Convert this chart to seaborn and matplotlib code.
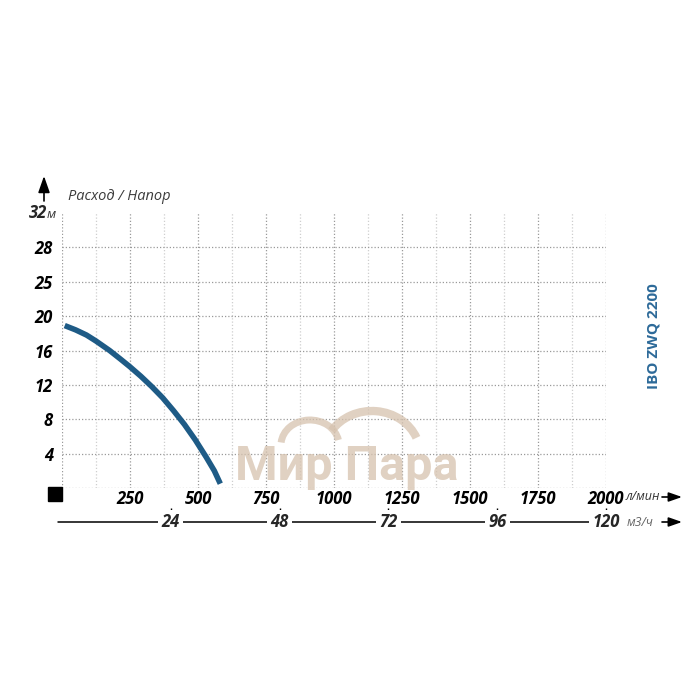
import matplotlib
matplotlib.use("Agg")
import matplotlib.pyplot as plt
import matplotlib.transforms as mtransforms
from matplotlib.patches import Arc, FancyArrowPatch
import seaborn as sns
import pandas as pd

# pump curve (flow l/min, head m)
flow_lpm = [10, 50, 90, 125, 175, 215, 250, 290, 330, 370, 410, 450, 490,
            530, 560, 582]
head_m = [18.9, 18.4, 17.8, 17.1, 16.0, 15.0, 14.1, 13.0, 11.8, 10.5, 9.0,
          7.4, 5.6, 3.6, 2.0, 0.5]

x_ticks = [0, 250, 500, 750, 1000, 1250, 1500, 1750, 2000]
x_labels = ["", "250", "500", "750", "1000", "1250", "1500", "1750", "2000"]
x_minor = [125, 375, 625, 875, 1125, 1375, 1625, 1875]
y_ticks = [0, 4, 8, 12, 16, 20, 24, 28, 32]
y_labels = ["", "4", "8", "12", "16", "20", "25", "28", ""]
m3h_ticks = [24, 48, 72, 96, 120]

model = "IBO ZWQ 2200"
curve_color = "#1e5b86"

sns.set_style("white")
plt.rcParams["font.family"] = ["Open Sans", "DejaVu Sans"]

df = pd.DataFrame({"flow": flow_lpm, "head": head_m})

W = 700.0
fig = plt.figure(figsize=(7, 7), dpi=100)
fig.patch.set_facecolor("white")


def fx(x):
    return x / W


def fy(y):
    return 1 - y / W


ax = fig.add_axes([fx(62), fy(488), 544 / W, 275 / W])
ax.set_xlim(0, 2000)
ax.set_ylim(0, 32)

sns.lineplot(data=df, x="flow", y="head", ax=ax, color=curve_color,
             linewidth=4.0, zorder=5)
for ln in ax.lines:
    ln.set_solid_capstyle("butt")
    ln.set_solid_joinstyle("round")

ax.set_xticks(x_ticks)
ax.set_xticklabels(x_labels)
ax.set_xticks(x_minor, minor=True)
ax.set_yticks(y_ticks)
ax.set_yticklabels(y_labels)
ax.set_xlabel("")
ax.set_ylabel("")
for s in ax.spines.values():
    s.set_visible(False)

ax.tick_params(axis="both", which="both", length=0)
ax.tick_params(axis="x", pad=1.5)
ax.tick_params(axis="y", pad=6.5)
for lbl in ax.get_xticklabels() + ax.get_yticklabels():
    lbl.set_fontweight("bold")
    lbl.set_fontstyle("italic")
    lbl.set_fontsize(12)
    lbl.set_color("black")

dots = (0, (1, 1.6))
ax.grid(True, which="major", axis="both", color="#9a9a9a", linestyle=dots,
        linewidth=0.9)
ax.grid(True, which="minor", axis="x", color="#cfcfcf", linestyle=dots,
        linewidth=0.9)
ax.get_ygridlines()[-1].set_visible(False)
ax.set_axisbelow(True)

# "32 м" label at the top of the head axis
ax.annotate("32", xy=(0, 32), xycoords=("axes fraction", "data"),
            xytext=(-15, 0), textcoords="offset pixels", ha="right",
            va="center", fontsize=12, fontweight="bold", fontstyle="italic")
ax.annotate("м", xy=(0, 32), xycoords=("axes fraction", "data"),
            xytext=(-15, -1), textcoords="offset pixels", ha="left",
            va="center", fontsize=9.5, fontstyle="italic", color="#333333")

# black square at the origin
off = mtransforms.ScaledTranslation(-7 / 100, -6 / 100, fig.dpi_scale_trans)
ax.plot([0], [0], marker="s", markersize=9.5, color="black", clip_on=False,
        transform=ax.transData + off)

# second scale, m3/h
ax2 = fig.add_axes([fx(62), fy(536), 544 / W, 28 / W])
ax2.set_xlim(0, 120)
ax2.set_ylim(0, 1)
for s in ax2.spines.values():
    s.set_visible(False)
ax2.set_yticks([])
ax2.set_xticks(m3h_ticks)
ax2.tick_params(axis="x", top=True, bottom=False, labelbottom=False,
                direction="in", length=3, width=1, color="black")
ax2.patch.set_alpha(0)
ax2.axhline(0.5, xmin=-0.008, xmax=1.0, color="black", linewidth=1.1,
            clip_on=False)
for v in m3h_ticks:
    ax2.text(v, 0.5, str(v), ha="center", va="center", fontsize=12,
             fontweight="bold", fontstyle="italic",
             bbox=dict(facecolor="white", edgecolor="none", pad=2.5))

# axis captions and arrows
fig.text(fx(68), fy(197), "Расход / Напор", ha="left", va="center",
         fontsize=10.5, fontstyle="italic", color="#3c3c3c")
fig.text(fx(626), fy(497), "л/мин", ha="left", va="center", fontsize=9,
         fontstyle="italic", color="#333333")
fig.text(fx(627), fy(523), "м3/ч", ha="left", va="center", fontsize=9,
         fontstyle="italic", color="#666666")

up = dict(arrowstyle="-|>,head_length=1.0,head_width=0.35", color="black",
          lw=1.2, mutation_scale=10, shrinkA=0, shrinkB=0)
fig.add_artist(FancyArrowPatch((fx(44), fy(201)), (fx(44), fy(176)),
                               transform=fig.transFigure, **up))
right = dict(arrowstyle="-|>,head_length=0.8,head_width=0.28", color="black",
             lw=1.2, mutation_scale=10, shrinkA=0, shrinkB=0)
for yy in (497, 522):
    fig.add_artist(FancyArrowPatch((fx(662), fy(yy)), (fx(682), fy(yy)),
                                   transform=fig.transFigure, **right))

fig.text(fx(653), fy(336), model, rotation=90, ha="center", va="center",
         fontsize=11, fontweight="bold", color="#2d6a99")

# watermark
wm = "#d6c2ae"
fig.text(fx(347), fy(467), "Мир Пара", ha="center", va="center",
         fontsize=35, fontweight="bold", color=wm, alpha=0.75,
         family=["Roboto", "DejaVu Sans"])
fig.add_artist(Arc((fx(310), fy(445)), 58 / W, 50 / W, theta1=10,
                   theta2=175, transform=fig.transFigure, color=wm,
                   lw=5, alpha=0.75))
fig.add_artist(Arc((fx(372), fy(454)), 96 / W, 86 / W, theta1=20,
                   theta2=150, transform=fig.transFigure, color=wm,
                   lw=6, alpha=0.75))

fig.savefig("out.png", dpi=100, facecolor="white")
